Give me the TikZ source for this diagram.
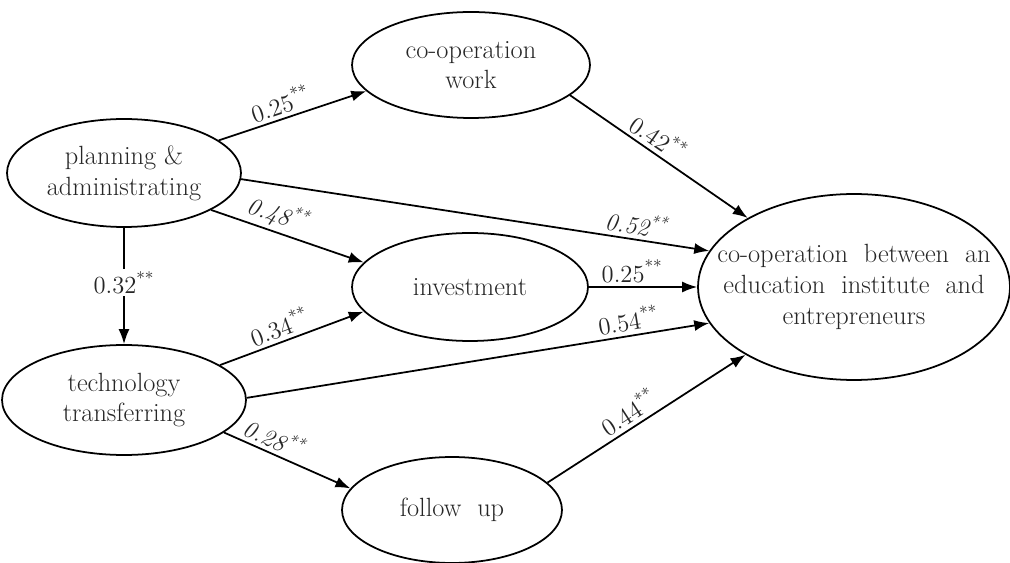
\documentclass[tikz,border=0pt]{standalone}
\usetikzlibrary{shapes.geometric,arrows.meta}
\tikzset{
  latent/.style={draw, ellipse, line width=1pt, inner sep=0pt, align=center,
    text=black!85, font=\fontsize{15}{17.5}\selectfont},
  coef/.style={font=\fontsize{14}{16}\selectfont, text=black!85, sloped, above, inner sep=2pt},
  link/.style={line width=1pt, -{Latex[length=3mm,width=2.2mm]}}
}
\newcommand{\cf}[1]{#1\textsuperscript{**}}

\begin{document}
\begin{tikzpicture}[x=0.02cm, y=-0.02cm]
  \useasboundingbox (0,0) rectangle (1010,563);

  % latent variables
  \node[latent, minimum width=4.68cm, minimum height=2.16cm] (plan) at (124,173) {planning \&\\administrating};
  \node[latent, minimum width=4.88cm, minimum height=2.2cm] (tech) at (124,400) {technology\\transferring};
  \node[latent, minimum width=4.76cm, minimum height=2.12cm] (work) at (471,65) {co-operation\\work};
  \node[latent, minimum width=4.72cm, minimum height=2.16cm] (invest) at (470,287) {investment};
  \node[latent, minimum width=4.4cm, minimum height=2.12cm] (follow) at (452,510) {follow~~up};
  \node[latent, inner xsep=-0.65cm, minimum width=6.24cm, minimum height=3.72cm] (coop) at (854,287)
    {co-operation~~between~~an\\education~~institute~~and\\entrepreneurs};

  % paths
  \draw[link] (plan.19) -- node[coef, pos=0.45] {\cf{0.25}} (work.194);
  \draw[link] (plan.-3) -- node[coef, pos=0.84, font=\fontsize{14}{16}\selectfont\itshape] {\cf{0.52}} (coop.166);
  \draw[link] (plan.-23) -- node[coef, pos=0.4, font=\fontsize{14}{16}\selectfont\itshape] {\cf{0.48}} (invest.167);
  \draw[link] (plan.south) -- node[fill=white, text=black!85, inner sep=1pt, pos=0.47,
    font=\fontsize{14}{16}\selectfont] {\cf{0.32}} (tech.north);
  \draw[link] (tech.20) -- node[coef, pos=0.45] {\cf{0.34}} (invest.193);
  \draw[link] (tech.1) -- node[coef, pos=0.83] {\cf{0.54}} (coop.194);
  \draw[link] (invest.east) -- node[coef, pos=0.4] {\cf{0.25}} (coop.west);
  \draw[link] (tech.-18) -- node[coef, pos=0.35, font=\fontsize{14}{16}\selectfont\itshape] {\cf{0.28}} (follow.168);
  \draw[link] (follow.16) -- node[coef, pos=0.45] {\cf{0.44}} (coop.212);
  \draw[link] (work.-17) -- node[coef, pos=0.45] {\cf{0.42}} (coop.147);
\end{tikzpicture}
\end{document}
